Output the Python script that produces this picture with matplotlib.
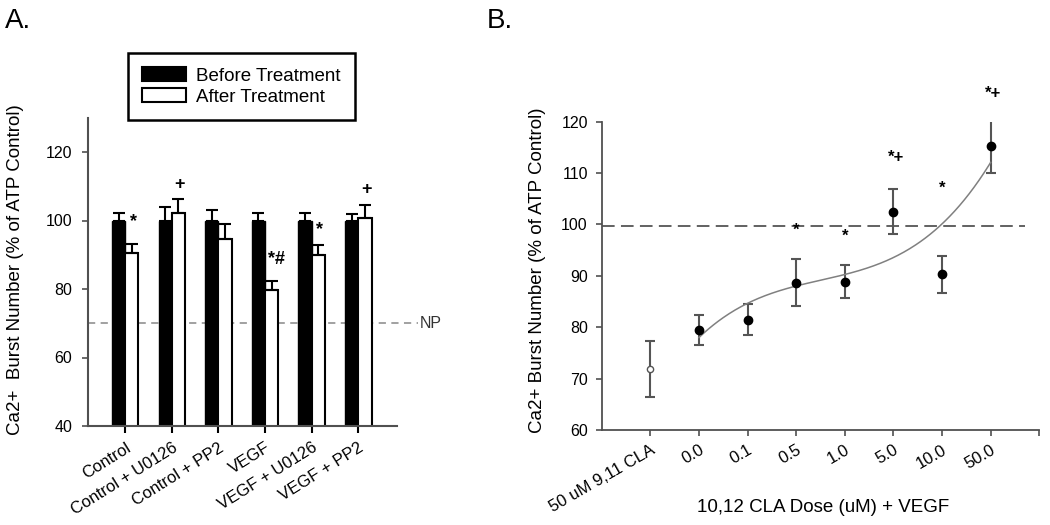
import numpy as np
import matplotlib
matplotlib.use("Agg")
import matplotlib.pyplot as plt
import matplotlib.transforms as mtransforms
from matplotlib.patches import Patch

plt.rcParams['font.family'] = ['Liberation Sans', 'DejaVu Sans']

# ---------------- Panel A data ----------------
groups_A = ["Control", "Control + U0126", "Control + PP2", "VEGF", "VEGF + U0126", "VEGF + PP2"]
before_A = [100, 100, 100, 100, 100, 100]
before_err_A = [2.3, 3.8, 3.0, 2.3, 2.3, 2.0]
after_A = [90.6, 102.1, 94.7, 79.7, 89.9, 100.6]
after_err_A = [2.5, 4.1, 4.3, 2.7, 3.0, 4.0]
np_level_A = 70
sig_text_A = ["*", "+", "", "*#", "*", "+"]
sig_y_A = [99.6, 110.4, 0, 88.5, 97.2, 109.0]
yticks_A = [40, 60, 80, 100, 120]

# ---------------- Panel B data ----------------
doses_B = ["50 uM 9,11 CLA", "0.0", "0.1", "0.5", "1.0", "5.0", "10.0", "50.0"]
burst_B = [71.9, 79.5, 81.5, 88.7, 88.9, 102.5, 90.35, 115.25]
err_B = [5.5, 2.9, 3.0, 4.6, 3.2, 4.4, 3.6, 5.2]
ref_level_B = 99.7
sig_text_B = ["", "", "", "*", "*", "*+", "*", "*+"]
sig_y_B = [0, 0, 0, 98.9, 97.8, 113.0, 107.0, 125.5]
yticks_B = [60, 70, 80, 90, 100, 110, 120]

W, H = 1050, 525
fig = plt.figure(figsize=(W / 100, H / 100), dpi=100)

spine_col = '#505050'
TICK_FS = 11.5
XT_FS = 12
LAB_FS = 13.5

# ================= Panel A =================
axA = fig.add_axes([88.3 / W, 1 - 426 / H, (396.7 - 88.3) / W, (426 - 117.75) / H])
x = np.arange(len(groups_A))
bw = 0.285
axA.bar(x - bw / 2, before_A, bw, color='black', edgecolor='black', linewidth=1.0, zorder=2)
axA.bar(x + bw / 2, after_A, bw, color='white', edgecolor='black', linewidth=1.5, zorder=2)
axA.errorbar(x - bw / 2, before_A, yerr=[np.zeros(len(x)), before_err_A], fmt='none',
             ecolor='black', elinewidth=1.5, capsize=4.5, capthick=1.5, zorder=3)
axA.errorbar(x + bw / 2, after_A, yerr=[np.zeros(len(x)), after_err_A], fmt='none',
             ecolor='black', elinewidth=1.5, capsize=4.5, capthick=1.5, zorder=3)
axA.set_xlim(-0.79, 5.82)
axA.set_ylim(40, 130)
axA.set_yticks(yticks_A)
axA.set_xticks(x)
axA.set_xticklabels(groups_A, rotation=32, ha='right', rotation_mode='anchor', fontsize=XT_FS)
axA.tick_params(axis='y', direction='out', length=4.5, width=1.2, color=spine_col, labelsize=TICK_FS, pad=7)
axA.tick_params(axis='x', direction='out', length=5, width=1.5, color='black', pad=5)
for s in ['top', 'right']:
    axA.spines[s].set_visible(False)
for s in ['left', 'bottom']:
    axA.spines[s].set_color(spine_col)
    axA.spines[s].set_linewidth(1.5)

# NP line extends beyond the axes
trA = mtransforms.blended_transform_factory(axA.transAxes, axA.transData)
axA.plot([0, 1.069], [np_level_A, np_level_A], transform=trA, color='#9a9a9a',
         linestyle=(0, (4, 3)), linewidth=1.3, clip_on=False, zorder=1)
axA.text(1.075, np_level_A, "NP", transform=trA, fontsize=11.5, color='#333333',
         ha='left', va='center')

for i, (t, yy) in enumerate(zip(sig_text_A, sig_y_A)):
    if t:
        axA.text(i + bw / 2 + (0.11 if t == "*#" else 0.03), yy, t, fontsize=13, fontweight='bold',
                 ha='center', va='center', clip_on=False)

fig.text(15.5 / W, 1 - 270 / H, "Ca2+  Burst Number (% of ATP Control)", rotation=90,
         fontsize=LAB_FS, ha='center', va='center')
fig.text(5 / W, 1 - 28 / H, "A.", fontsize=20, ha='left', va='baseline')

handles = [Patch(facecolor='black', edgecolor='black', linewidth=1.5),
           Patch(facecolor='white', edgecolor='black', linewidth=1.5)]
leg = fig.legend(handles, ["Before Treatment", "After Treatment"], loc='center',
                 bbox_to_anchor=((126 + 356) / 2 / W, 1 - 86.5 / H), fontsize=LAB_FS,
                 frameon=True, fancybox=False, edgecolor='black', framealpha=1,
                 handlelength=2.35, handleheight=0.75, handletextpad=0.55,
                 labelspacing=0.2, borderpad=0.75)
leg.get_frame().set_linewidth(1.8)

# ================= Panel B =================
axB = fig.add_axes([601.7 / W, 1 - 430 / H, (1039.3 - 601.7) / W, (430 - 121.7) / H])
xb = np.arange(len(doses_B))
axB.errorbar(xb, burst_B, yerr=err_B, fmt='none', ecolor='#555555', elinewidth=1.5,
             capsize=3.5, capthick=1.5, zorder=2)
axB.plot(xb[:1], burst_B[:1], 'o', markersize=4.5, markerfacecolor='white',
         markeredgecolor='#555555', markeredgewidth=1.0, zorder=3, linestyle='none')
axB.plot(xb[1:], burst_B[1:], 'o', markersize=6, color='black', zorder=3, linestyle='none')

# cubic regression through the VEGF dose points
coef = np.polyfit(xb[1:], burst_B[1:], 3)
xf = np.linspace(xb[1], xb[-1], 300)
axB.plot(xf, np.polyval(coef, xf), color='#808080', linewidth=1.1, zorder=2)

axB.plot([-1, 7.7], [ref_level_B, ref_level_B], color='#555555', linewidth=1.3,
         linestyle=(0, (7, 3.5)), zorder=1)

for i, (t, yy) in enumerate(zip(sig_text_B, sig_y_B)):
    if t:
        axB.text(i + (0.05 if len(t) > 1 else 0), yy, t, fontsize=12, fontweight='bold',
                 ha='center', va='center', clip_on=False)

axB.set_xlim(-1, 8)
axB.set_ylim(60, 120)
axB.set_yticks(yticks_B)
axB.set_xticks(list(xb) + [8])
axB.set_xticklabels(doses_B + [""], rotation=30, ha='right', rotation_mode='anchor', fontsize=XT_FS)
axB.tick_params(axis='y', direction='out', length=4, width=1.2, color=spine_col, labelsize=TICK_FS, pad=6)
axB.tick_params(axis='x', direction='out', length=4, width=1.2, color=spine_col, pad=5)
for s in ['top', 'right']:
    axB.spines[s].set_visible(False)
for s in ['left', 'bottom']:
    axB.spines[s].set_color(spine_col)
    axB.spines[s].set_linewidth(1.3)

fig.text(823 / W, 1 - 507 / H, "10,12 CLA Dose (uM) + VEGF", fontsize=LAB_FS,
         ha='center', va='center')
fig.text(538 / W, 1 - 270 / H, "Ca2+ Burst Number (% of ATP Control)", rotation=90,
         fontsize=LAB_FS, ha='center', va='center')
fig.text(487 / W, 1 - 28 / H, "B.", fontsize=20, ha='left', va='baseline')

fig.savefig("out.png", dpi=100)
